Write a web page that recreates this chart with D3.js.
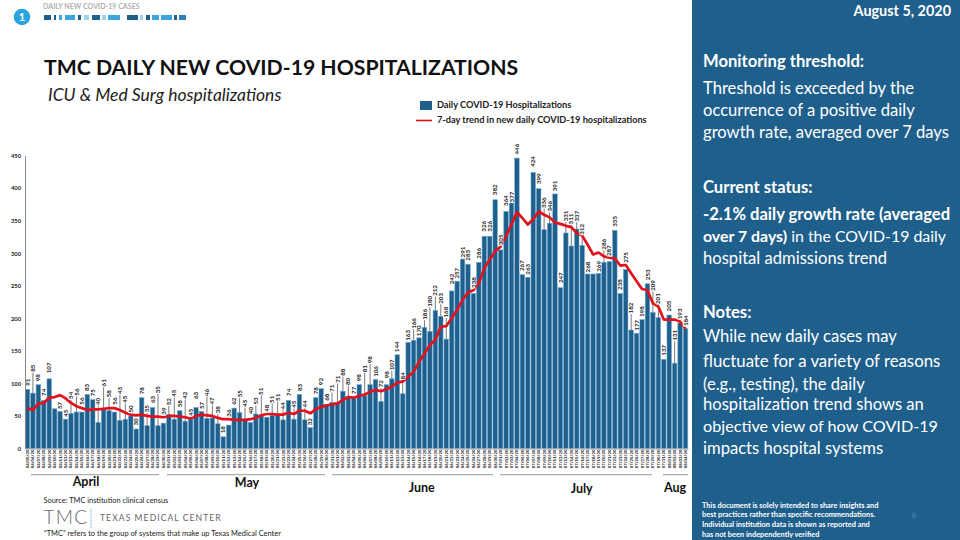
<!DOCTYPE html>
<html><head><meta charset="utf-8">
<script src="https://cdn.jsdelivr.net/npm/d3@7"></script>
<style>
html,body{margin:0;padding:0;background:#fff;}
svg{display:block;font-family:Lato,"Open Sans",sans-serif;}
</style></head><body>
<svg id="c" width="960" height="540"></svg>
<script>
const startDate = "2020-04-05";
const dailyHospitalizations = [91,85,98,74,107,61,57,45,54,56,56,83,75,40,61,58,56,43,45,50,30,78,35,63,35,39,52,45,58,42,45,63,57,46,47,38,18,36,62,55,
45,40,53,51,48,51,51,44,74,45,83,44,32,78,92,68,71,71,88,80,77,98,81,98,106,72,98,107,144,84,
163,166,170,186,180,212,203,168,242,257,291,283,238,286,326,326,382,305,364,377,446,267,263,424,399,336,346,391,247,331,311,337,312,268,268,269,286,287,335,238,275,182,177,198,253,209,201,137,205,131,193,184];
const sevenDayTrend = [62,59,69,70,78,79,82,77,70,65,62,59,60,60,61,62,62,59,55,52,51,52,50,49,49,48,50,50,49,48,46,50,52,51,50,47,45,45,44,44,
44,45,47,51,53,53,52,52,55,53,58,58,54,60,64,66,68,69,75,79,78,81,83,87,90,88,91,95,101,103,
110,118,133,146,159,167,187,188,200,213,228,240,243,254,277,290,303,310,326,344,363,354,344,352,364,359,355,347,345,342,340,331,327,313,298,301,295,293,292,281,282,269,257,245,243,223,218,198,198,198,195,184];
const yTicks = [0,50,100,150,200,250,300,350,400,450];
const labelLift = [7,25,7,8,11,6,6,6,18,20,11,7,7,21,26,17,11,30,20,7,7,7,17,8,36,12,13,26,7,26,7,12,6,26,17,14,7,12,7,19,
16,12,13,24,9,16,18,14,8,15,7,16,6,7,7,7,14,23,19,15,8,7,27,25,8,18,10,14,8,18,
7,17,7,13,30,20,18,27,12,8,7,9,11,9,10,10,10,10,11,6,9,9,8,11,10,27,17,8,10,17,27,13,16,7,7,7,18,11,9,9,12,22,8,8,9,27,19,9,9,28,9,8];
const hiddenLabels = [5,104];
const monthNames = ["April","May","June","July","Aug"];
const monthCenters = [86,247,421.7,581.7,675];
const monthBaselines = [486,487,492,493,492];
const monthSpans = [[31,159],[167,325],[332,493],[500,652],[663,688]];

const panelColor = "#1f5f8c", barColor = "#1f5f8c", red = "#e3111b";
const svg = d3.select("#c");
const fmt = d3.timeFormat("%m/%d/%y");
const dates = dailyHospitalizations.map((_, i) => d3.timeDay.offset(d3.timeParse("%Y-%m-%d")(startDate), i));

const x = d3.scaleBand().domain(d3.range(dailyHospitalizations.length)).range([25, 688]).paddingInner(0.17).paddingOuter(0.04);
const y = d3.scaleLinear().domain([0, 450]).range([448.5, 155.5]);
const cx = i => x(i) + x.bandwidth() / 2;

// header
svg.append("circle").attr("cx", 22).attr("cy", 17).attr("r", 8.3).attr("fill", "#2ba3dc");
svg.append("text").attr("x", 22).attr("y", 21).attr("text-anchor", "middle").attr("fill", "#fff").attr("font-size", 11).attr("font-weight", 700).text("1");
svg.append("text").attr("x", 43).attr("y", 9).attr("fill", "#b0b0b0").attr("font-size", 7.1).attr("font-weight", 700).text("DAILY NEW COVID-19 CASES");
const dark = "#1f5f8c", bright = "#3aa6dc", pale = "#9fd3ee";
const dashes = [[44,51,dark],[54,56,dark],[59,62,bright],[65,75,bright],[78,81,dark],[84,89,pale],[92,100,dark],[102,106,pale],[108,120,bright],[127,138,dark],[140,143,pale],[146,150,dark],[152,159,bright],[161,172,bright],[174,177,dark],[179,186,"#2f80b8"]];
svg.append("g").selectAll("rect").data(dashes).join("rect")
  .attr("x", d => d[0]).attr("y", 15).attr("width", d => d[1] - d[0]).attr("height", 5).attr("fill", d => d[2]);

svg.append("text").attr("x", 44).attr("y", 75).attr("font-size", 21.2).attr("font-weight", 700).attr("fill", "#111").text("TMC DAILY NEW COVID-19 HOSPITALIZATIONS");
svg.append("text").attr("x", 48).attr("y", 101).attr("font-size", 17.5).attr("font-style", "italic").attr("fill", "#222").text("ICU & Med Surg hospitalizations");

// legend
svg.append("rect").attr("x", 420).attr("y", 101).attr("width", 12).attr("height", 9).attr("fill", barColor);
svg.append("text").attr("x", 437).attr("y", 108).attr("font-size", 9.2).attr("font-weight", 700).attr("fill", "#222").text("Daily COVID-19 Hospitalizations");
svg.append("line").attr("x1", 416).attr("x2", 432).attr("y1", 120.5).attr("y2", 120.5).attr("stroke", red).attr("stroke-width", 1.6);
svg.append("text").attr("x", 437).attr("y", 123).attr("font-size", 9.2).attr("font-weight", 700).attr("fill", "#222").text("7-day trend in new daily COVID-19 hospitalizations");

const shown = d3.range(dailyHospitalizations.length).filter(i => !hiddenLabels.includes(i));
const labelH = v => String(v).length * 3.3 + 2;

// bars
svg.append("g").selectAll("rect").data(dailyHospitalizations).join("rect")
  .attr("x", (d, i) => x(i)).attr("y", d => y(d)).attr("width", x.bandwidth()).attr("height", d => y(0) - y(d))
  .attr("fill", barColor).attr("stroke", "#6ea8d0").attr("stroke-width", 0.6);

// leader lines
svg.append("g").selectAll("line").data(shown.filter(i => labelLift[i] > 12)).join("line")
  .attr("x1", cx).attr("x2", cx)
  .attr("y1", i => y(dailyHospitalizations[i]))
  .attr("y2", i => y(dailyHospitalizations[i]) - labelLift[i])
  .attr("stroke", "#222").attr("stroke-width", 0.6);

// trend
svg.append("path").datum(sevenDayTrend)
  .attr("d", d3.line().x((d, i) => cx(i)).y(d => y(d)))
  .attr("fill", "none").attr("stroke", red).attr("stroke-width", 2.7).attr("stroke-linejoin", "round");

// data labels
const lab = svg.append("g").selectAll("g").data(shown).join("g")
  .attr("transform", i => `translate(${cx(i)},${y(dailyHospitalizations[i]) - labelLift[i]}) rotate(-90)`);
lab.append("rect")
  .attr("x", i => -labelH(dailyHospitalizations[i]) / 2).attr("y", -2.8)
  .attr("width", i => labelH(dailyHospitalizations[i])).attr("height", 5.6).attr("rx", 1).attr("fill", "#fff");
lab.append("text").attr("text-anchor", "middle").attr("dy", 2.1).attr("font-size", 6.2).attr("font-weight", 700).attr("fill", "#222")
  .text(i => dailyHospitalizations[i]);

// axes
const yAxis = svg.append("g").attr("transform", "translate(25,0)")
  .call(d3.axisLeft(y).tickValues(yTicks).tickSize(0).tickPadding(4));
yAxis.select(".domain").attr("stroke", "#888").attr("stroke-width", 1);
yAxis.selectAll("text").attr("font-size", 5.8).attr("font-weight", 700).attr("fill", "#222").attr("font-family", "Lato");

const xAxis = svg.append("g").attr("transform", `translate(0,${y(0)})`)
  .call(d3.axisBottom(x).tickFormat(i => fmt(dates[i])).tickSize(0).tickPadding(0));
xAxis.select(".domain").attr("stroke", "#999").attr("stroke-width", 0.8);
xAxis.selectAll("text").attr("font-size", 4.2).attr("font-weight", 900).attr("fill", "#222").attr("font-family", "Lato")
  .attr("text-anchor", "end").attr("transform", "rotate(-90)").attr("x", -1.2).attr("y", 0).attr("dy", "0.35em");

// months
svg.append("g").selectAll("line").data(monthSpans).join("line")
  .attr("x1", d => d[0]).attr("x2", d => d[1]).attr("y1", 474.7).attr("y2", 474.7).attr("stroke", "#999").attr("stroke-width", 1);
svg.append("g").selectAll("text").data(monthNames).join("text")
  .attr("x", (d, i) => monthCenters[i]).attr("y", (d, i) => monthBaselines[i])
  .attr("text-anchor", "middle").attr("font-size", 12.5).attr("font-weight", 700).attr("fill", "#111").text(d => d);

// footer
svg.append("text").attr("x", 43.5).attr("y", 503).attr("font-size", 7.4).attr("fill", "#222").text("Source: TMC institution clinical census");
svg.append("text").attr("x", 43.5).attr("y", 524).attr("font-size", 19).attr("font-weight", 300).attr("letter-spacing", 1.3).attr("fill", "#666").text("TMC");
svg.append("line").attr("x1", 91).attr("x2", 91).attr("y1", 509).attr("y2", 528).attr("stroke", "#3a8bc0").attr("stroke-width", 0.8).attr("stroke-dasharray", "1.2 1");
svg.append("text").attr("x", 100).attr("y", 520.5).attr("font-size", 8.6).attr("letter-spacing", 1.05).attr("fill", "#666").text("TEXAS MEDICAL CENTER");
svg.append("text").attr("x", 44).attr("y", 536).attr("font-size", 7.45).attr("fill", "#222").text("\u201CTMC\u201D refers to the group of systems that make up Texas Medical Center");

// right panel
svg.append("rect").attr("x", 692).attr("y", 0).attr("width", 268).attr("height", 540).attr("fill", panelColor);
const P = (x, y, t, size, w, anchor) => svg.append("text").attr("x", x).attr("y", y).attr("font-size", size).attr("font-weight", w).attr("fill", "#fff").attr("text-anchor", anchor || "start").text(t);
P(951, 16, "August 5, 2020", 14.4, 700, "end");
P(703, 67, "Monitoring threshold:", 16.6, 700);
[["Threshold is exceeded by the",94],["occurrence of a positive daily",116],["growth rate, averaged over 7 days",138]].forEach(d => P(703, d[1], d[0], 16.6, 400));
P(703, 193, "Current status:", 16.6, 700);
P(703, 220, "-2.1% daily growth rate (averaged", 16.6, 700);
svg.append("text").attr("x", 703).attr("y", 242).attr("font-size", 15.9).attr("fill", "#fff")
  .html('<tspan font-weight="700">over 7 days)</tspan> in the COVID-19 daily');
P(703, 264, "hospital admissions trend", 16.6, 400);
P(703, 318, "Notes:", 16.6, 700);
[["While new daily cases may",342],["fluctuate for a variety of reasons",367,16.8],["(e.g., testing), the daily",390],["hospitalization trend shows an",410],["objective view of how COVID-19",432,16.2],["impacts hospital systems",454]].forEach(d => P(703, d[1], d[0], d[2] || 16.6, 400));
[["This document is solely intended to share insights and",508],["best practices rather than specific recommendations.",517],["Individual institution data is shown as reported and",527],["has not been independently verified",536.5]].forEach(d => P(702, d[1], d[0], 7.4, 700));
svg.append("text").attr("x", 914).attr("y", 519).attr("text-anchor", "middle").attr("font-size", 8).attr("fill", "#4b93c4").text("9");
</script>
</body></html>
